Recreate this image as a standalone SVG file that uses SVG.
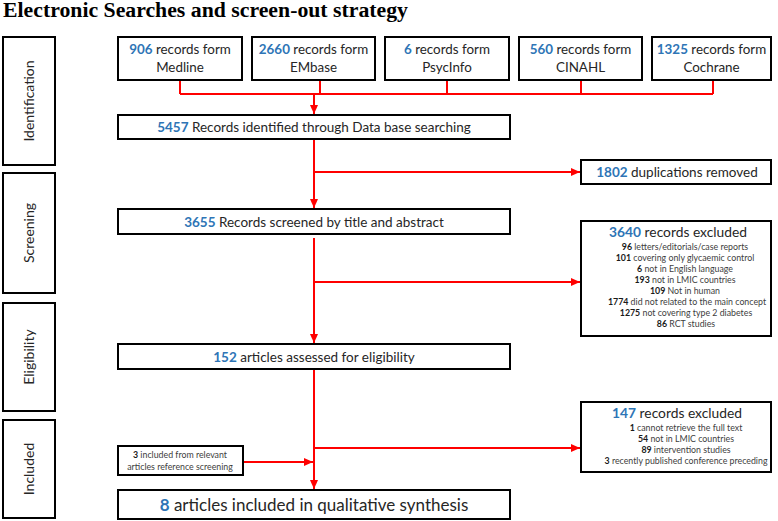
<svg xmlns="http://www.w3.org/2000/svg" width="778" height="521" viewBox="0 0 778 521">
<style>
.box{fill:#fff;stroke:#000;stroke-width:2}
.t{font-family:Lato,"Liberation Sans",sans-serif;fill:#262626;text-anchor:middle}
.n{fill:#2e75b6;font-weight:bold}
.b{font-weight:bold;fill:#1a1a1a}
.src{font-size:13.4px}
.main{font-size:13.5px}
.side{font-size:14px}
.sm{font-size:8.8px;fill:#404040}
.con{fill:none;stroke:#f00;stroke-width:2}
</style>
<defs>
<marker id="ah" markerUnits="userSpaceOnUse" markerWidth="9" markerHeight="8" refX="9" refY="4" orient="auto">
<path d="M0,0 L9,4 L0,8 z" fill="#f00"/>
</marker>
</defs>
<rect width="778" height="521" fill="#fff"/>
<text x="3" y="17" font-family="'Liberation Serif',serif" font-weight="bold" font-size="20" fill="#000" textLength="405" lengthAdjust="spacingAndGlyphs">Electronic Searches and screen-out strategy</text>

<g id="stage-identification"><rect class="box" x="3" y="37" width="52" height="128"/><text class="t side" transform="translate(34,101) rotate(-90)">Identification</text></g>
<g id="stage-screening"><rect class="box" x="3" y="173" width="52" height="120"/><text class="t side" transform="translate(34,233) rotate(-90)">Screening</text></g>
<g id="stage-eligibility"><rect class="box" x="3" y="303" width="52" height="108"/><text class="t side" transform="translate(34,357) rotate(-90)">Eligibility</text></g>
<g id="stage-included"><rect class="box" x="3" y="420" width="52" height="98"/><text class="t side" transform="translate(34,469) rotate(-90)">Included</text></g>

<g id="connectors">
<path class="con" d="M180,80V94M320,80V94M447,80V94M581,80V94M713,80V94M180,94H713"/>
<path class="con" d="M314,94V114" marker-end="url(#ah)"/>
<path class="con" d="M314,139V208" marker-end="url(#ah)"/>
<path class="con" d="M314,172H580" marker-end="url(#ah)"/>
<path class="con" d="M314,238V343" marker-end="url(#ah)"/>
<path class="con" d="M314,282H580" marker-end="url(#ah)"/>
<path class="con" d="M314,369V489" marker-end="url(#ah)"/>
<path class="con" d="M314,448H580" marker-end="url(#ah)"/>
<path class="con" d="M243,462H313" marker-end="url(#ah)"/>
</g>

<g id="src-medline"><rect class="box" x="118" y="37" width="124" height="43"/><text class="t src" x="180" y="54"><tspan class="n">906</tspan> records form</text><text class="t src" x="180" y="72" fill="#2e75b6">Medline</text></g>
<g id="src-embase"><rect class="box" x="252" y="37" width="123" height="43"/><text class="t src" x="313.5" y="54"><tspan class="n">2660</tspan> records form</text><text class="t src" x="313.5" y="72" fill="#2e75b6">EMbase</text></g>
<g id="src-psycinfo"><rect class="box" x="385" y="37" width="124" height="43"/><text class="t src" x="447" y="54"><tspan class="n">6</tspan> records form</text><text class="t src" x="447" y="72" fill="#2e75b6">PsycInfo</text></g>
<g id="src-cinahl"><rect class="box" x="519" y="37" width="123" height="43"/><text class="t src" x="580.5" y="54"><tspan class="n">560</tspan> records form</text><text class="t src" x="580.5" y="72" fill="#2e75b6">CINAHL</text></g>
<g id="src-cochrane"><rect class="box" x="652" y="37" width="119" height="43"/><text class="t src" x="711.5" y="54"><tspan class="n">1325</tspan> records form</text><text class="t src" x="711.5" y="72" fill="#2e75b6">Cochrane</text></g>

<g id="identified"><rect class="box" x="118" y="115" width="392" height="24"/><text class="t main" x="314" y="132"><tspan class="n">5457</tspan> Records identified through Data base searching</text></g>
<g id="duplicates"><rect class="box" x="581" y="160" width="190" height="24"/><text class="t main" x="677" y="177"><tspan class="n">1802</tspan> duplications removed</text></g>
<g id="screened"><rect class="box" x="118" y="209" width="392" height="25"/><text class="t main" x="314" y="226.5"><tspan class="n">3655</tspan> Records screened by title and abstract</text></g>

<g id="excluded-screening"><rect class="box" x="581" y="221" width="190" height="115"/>
<text class="t" x="678" y="237" font-size="13.8"><tspan class="n">3640</tspan> records excluded</text>
<text class="t sm" x="685" y="250"><tspan class="b">96</tspan> letters/editorials/case reports</text>
<text class="t sm" x="685" y="261"><tspan class="b">101</tspan> covering only glycaemic control</text>
<text class="t sm" x="685" y="272"><tspan class="b">6</tspan> not in English language</text>
<text class="t sm" x="685" y="283"><tspan class="b">193</tspan> not in LMIC countries</text>
<text class="t sm" x="685" y="294"><tspan class="b">109</tspan> Not in human</text>
<text class="t sm" x="687" y="305"><tspan class="b">1774</tspan> did not related to the main concept</text>
<text class="t sm" x="686" y="316"><tspan class="b">1275</tspan> not covering type 2 diabetes</text>
<text class="t sm" x="686" y="327"><tspan class="b">86</tspan> RCT studies</text>
</g>

<g id="eligibility"><rect class="box" x="118" y="344" width="392" height="25"/><text class="t main" x="314" y="361.5"><tspan class="n">152</tspan> articles assessed for eligibility</text></g>

<g id="excluded-eligibility"><rect class="box" x="581" y="402" width="190" height="70"/>
<text class="t" x="677" y="418" font-size="13.8"><tspan class="n">147</tspan> records excluded</text>
<text class="t sm" x="686" y="431"><tspan class="b">1</tspan> cannot retrieve  the full text</text>
<text class="t sm" x="686" y="442"><tspan class="b">54</tspan> not in LMIC countries</text>
<text class="t sm" x="686" y="453"><tspan class="b">89</tspan> intervention studies</text>
<text class="t sm" x="686" y="464"><tspan class="b">3</tspan>  recently published conference preceding</text>
</g>

<g id="reference-screening"><rect class="box" x="118" y="446" width="125" height="29"/>
<text class="t sm" x="180" y="458"><tspan class="b">3</tspan> included from relevant</text>
<text class="t sm" x="180" y="469.5">articles reference  screening</text>
</g>

<g id="included"><rect class="box" x="118" y="490" width="392" height="29"/><text class="t" x="314" y="510.5" font-size="17"><tspan class="n">8</tspan> articles included in qualitative synthesis</text></g>
</svg>
